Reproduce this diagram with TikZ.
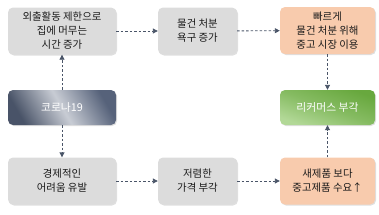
\documentclass[tikz,border=0pt]{standalone}
\usepackage{fontspec}
\setmainfont{Noto Sans CJK KR}
\usetikzlibrary{arrows.meta,shadows}
\definecolor{grayfill}{HTML}{DCDCDC}
\definecolor{orangefill}{HTML}{F8CBAD}
\definecolor{arrowcol}{HTML}{4A5568}
\definecolor{greentop}{HTML}{68A83E}
\definecolor{greenbot}{HTML}{B2D897}
\definecolor{slatedark}{HTML}{56627A}
\definecolor{slatelight}{HTML}{C8CCD4}
\definecolor{textcol}{HTML}{1A1A1A}
\begin{document}
\begin{tikzpicture}[x=1pt,y=-1pt,
  box/.style={rounded corners=5pt, minimum width=108pt, minimum height=47pt, align=center,
    font=\fontsize{10.4}{14}\selectfont, inner sep=1pt, text=textcol,
    drop shadow={shadow xshift=1pt,shadow yshift=-1pt,opacity=0.25}},
  graybox/.style={box, fill=grayfill},
  orangebox/.style={box, fill=orangefill},
  conn/.style={draw=arrowcol, dashed, dash pattern=on 2.5pt off 2pt, line width=0.9pt, -{Triangle[length=5pt,width=5pt]}}]
\useasboundingbox (0,0) rectangle (379,214);
\node[graybox] (a) at (62,31) {외출활동 제한으로\\집에 머무는\\시간 증가};
\node[graybox, minimum width=79pt] (b) at (197.5,31) {물건 처분\\욕구 증가};
\node[orangebox, minimum width=95pt] (c) at (327.5,30.5) {빠르게\\물건 처분 위해\\중고 시장 이용};
\node[box, minimum height=35pt, text=white, font=\fontsize{10.8}{13}\selectfont,
  top color=slatedark, bottom color=slatedark!85!black, middle color=slatelight, shading angle=-60] (k) at (62,107.5) {코로나19};
\node[box, minimum width=95pt, minimum height=35pt, text=white, font=\fontsize{10.8}{13}\selectfont,
  top color=greentop, bottom color=greenbot, middle color=greentop!60!greenbot, shading angle=-20] (r) at (327.5,107.5) {리커머스 부각};
\node[graybox] (d) at (62,181) {경제적인\\어려움 유발};
\node[graybox, minimum width=79pt] (e) at (197.5,181) {저렴한\\가격 부각};
\node[orangebox, minimum width=95pt] (f) at (327.5,181) {새제품 보다\\중고제품 수요↑};
\draw[conn] (a) -- (b);
\draw[conn] (b) -- (c);
\draw[conn] (k) -- (a);
\draw[conn] (k) -- (d);
\draw[conn] (d) -- (e);
\draw[conn] (e) -- (f);
\draw[conn] (c) -- (r);
\draw[conn] (f) -- (r);
\end{tikzpicture}
\end{document}
